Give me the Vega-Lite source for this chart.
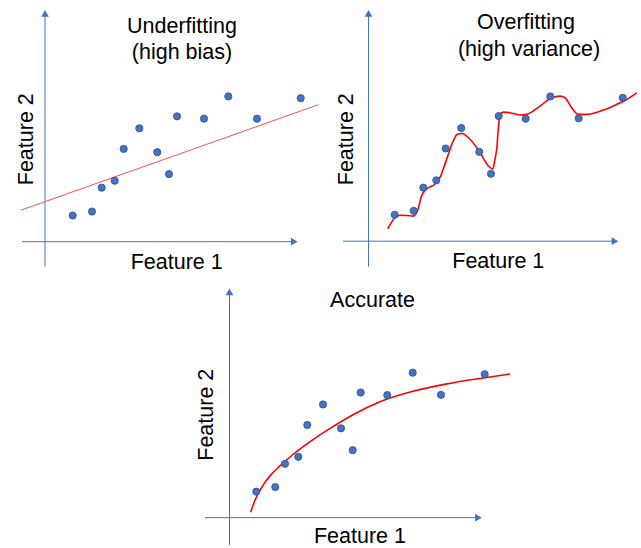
{
  "$schema": "https://vega.github.io/schema/vega-lite/v6.json",
  "width": 641,
  "height": 548,
  "padding": 0,
  "autosize": {"type": "fit", "contains": "padding"},
  "background": "white",
  "config": {"view": {"stroke": null}},
  "datasets": {
    "axes": [
      {"x": 45, "y": 16, "x2": 45, "y2": 268},
      {"x": 22, "y": 243, "x2": 292, "y2": 243},
      {"x": 368.5, "y": 16, "x2": 368.5, "y2": 268},
      {"x": 343, "y": 242.5, "x2": 613, "y2": 242.5},
      {"x": 229.5, "y": 296, "x2": 229.5, "y2": 548},
      {"x": 205, "y": 520.5, "x2": 476, "y2": 520.5}
    ],
    "arrows": [
      {"x": 45, "y": 13.4, "dir": "up"},
      {"x": 294.3, "y": 243, "dir": "right"},
      {"x": 368.5, "y": 13.4, "dir": "up"},
      {"x": 615, "y": 242.5, "dir": "right"},
      {"x": 229.5, "y": 293.4, "dir": "up"},
      {"x": 478.5, "y": 520.5, "dir": "right"}
    ],
    "fit": [
      {"x": 21, "y": 211.3, "curve": "underfit"},
      {"x": 318.3, "y": 105.3, "curve": "underfit"}
    ],
    "curves": [
      {"x": 387.7, "y": 230, "curve": "overfit"},
      {"x": 391.7, "y": 223.3, "curve": "overfit"},
      {"x": 396.7, "y": 217.3, "curve": "overfit"},
      {"x": 401.7, "y": 216.5, "curve": "overfit"},
      {"x": 406.7, "y": 216.7, "curve": "overfit"},
      {"x": 413.3, "y": 217.3, "curve": "overfit"},
      {"x": 417.3, "y": 212.7, "curve": "overfit"},
      {"x": 421.7, "y": 196.7, "curve": "overfit"},
      {"x": 426.7, "y": 190, "curve": "overfit"},
      {"x": 435, "y": 185, "curve": "overfit"},
      {"x": 440, "y": 178.3, "curve": "overfit"},
      {"x": 446.7, "y": 160, "curve": "overfit"},
      {"x": 453.3, "y": 141.7, "curve": "overfit"},
      {"x": 457.3, "y": 135, "curve": "overfit"},
      {"x": 461.7, "y": 134.3, "curve": "overfit"},
      {"x": 470, "y": 140, "curve": "overfit"},
      {"x": 480, "y": 153.3, "curve": "overfit"},
      {"x": 488.3, "y": 166.7, "curve": "overfit"},
      {"x": 492.7, "y": 170, "curve": "overfit"},
      {"x": 495, "y": 160, "curve": "overfit"},
      {"x": 496.7, "y": 150, "curve": "overfit"},
      {"x": 498.3, "y": 130, "curve": "overfit"},
      {"x": 500, "y": 115, "curve": "overfit"},
      {"x": 503.3, "y": 112.7, "curve": "overfit"},
      {"x": 510, "y": 113.3, "curve": "overfit"},
      {"x": 520, "y": 115.7, "curve": "overfit"},
      {"x": 526.7, "y": 115, "curve": "overfit"},
      {"x": 540, "y": 106.7, "curve": "overfit"},
      {"x": 551.7, "y": 98.3, "curve": "overfit"},
      {"x": 560, "y": 96.7, "curve": "overfit"},
      {"x": 565, "y": 98.3, "curve": "overfit"},
      {"x": 571.7, "y": 108.3, "curve": "overfit"},
      {"x": 578.3, "y": 115, "curve": "overfit"},
      {"x": 586.7, "y": 115, "curve": "overfit"},
      {"x": 603.3, "y": 110.7, "curve": "overfit"},
      {"x": 616.7, "y": 105, "curve": "overfit"},
      {"x": 626.7, "y": 100, "curve": "overfit"},
      {"x": 636.7, "y": 93.3, "curve": "overfit"},
      {"x": 250.7, "y": 515, "curve": "accurate"},
      {"x": 255, "y": 503, "curve": "accurate"},
      {"x": 260, "y": 493, "curve": "accurate"},
      {"x": 265, "y": 485, "curve": "accurate"},
      {"x": 270, "y": 478.5, "curve": "accurate"},
      {"x": 280, "y": 468.5, "curve": "accurate"},
      {"x": 293, "y": 457, "curve": "accurate"},
      {"x": 313, "y": 442, "curve": "accurate"},
      {"x": 333, "y": 429, "curve": "accurate"},
      {"x": 353, "y": 417, "curve": "accurate"},
      {"x": 380, "y": 404, "curve": "accurate"},
      {"x": 413, "y": 393.5, "curve": "accurate"},
      {"x": 447, "y": 386, "curve": "accurate"},
      {"x": 480, "y": 380.5, "curve": "accurate"},
      {"x": 510, "y": 376, "curve": "accurate"}
    ],
    "points": [
      {"x": 72.7, "y": 216.7, "panel": "underfit"},
      {"x": 92, "y": 212.7, "panel": "underfit"},
      {"x": 101.7, "y": 188.7, "panel": "underfit"},
      {"x": 114.7, "y": 181.7, "panel": "underfit"},
      {"x": 123.7, "y": 149.7, "panel": "underfit"},
      {"x": 139.3, "y": 129, "panel": "underfit"},
      {"x": 157.3, "y": 153, "panel": "underfit"},
      {"x": 169, "y": 175, "panel": "underfit"},
      {"x": 177, "y": 117, "panel": "underfit"},
      {"x": 204, "y": 119.3, "panel": "underfit"},
      {"x": 228.3, "y": 97, "panel": "underfit"},
      {"x": 257, "y": 119.3, "panel": "underfit"},
      {"x": 300.7, "y": 98.7, "panel": "underfit"},
      {"x": 394.7, "y": 216, "panel": "overfit"},
      {"x": 413.7, "y": 212, "panel": "overfit"},
      {"x": 423.3, "y": 188.7, "panel": "overfit"},
      {"x": 436.3, "y": 181.3, "panel": "overfit"},
      {"x": 445.7, "y": 149.3, "panel": "overfit"},
      {"x": 461.3, "y": 128.7, "panel": "overfit"},
      {"x": 479.3, "y": 152.7, "panel": "overfit"},
      {"x": 491, "y": 174.7, "panel": "overfit"},
      {"x": 498.7, "y": 116.7, "panel": "overfit"},
      {"x": 525.7, "y": 119.3, "panel": "overfit"},
      {"x": 550.3, "y": 97, "panel": "overfit"},
      {"x": 578.7, "y": 119, "panel": "overfit"},
      {"x": 622.7, "y": 98.3, "panel": "overfit"},
      {"x": 256.3, "y": 494.3, "panel": "accurate"},
      {"x": 275.3, "y": 489.7, "panel": "accurate"},
      {"x": 285, "y": 466.3, "panel": "accurate"},
      {"x": 298.3, "y": 459.3, "panel": "accurate"},
      {"x": 307.3, "y": 427.3, "panel": "accurate"},
      {"x": 323, "y": 406.7, "panel": "accurate"},
      {"x": 341, "y": 430.7, "panel": "accurate"},
      {"x": 352.7, "y": 452.7, "panel": "accurate"},
      {"x": 360.7, "y": 394.7, "panel": "accurate"},
      {"x": 387.3, "y": 397.3, "panel": "accurate"},
      {"x": 412.7, "y": 374.7, "panel": "accurate"},
      {"x": 441, "y": 397, "panel": "accurate"},
      {"x": 484.7, "y": 376.3, "panel": "accurate"}
    ],
    "htext": [
      {"x": 182, "y": 33.3, "text": "Underfitting"},
      {"x": 182, "y": 59.5, "text": "(high bias)"},
      {"x": 526, "y": 29.5, "text": "Overfitting"},
      {"x": 529, "y": 56, "text": "(high variance)"},
      {"x": 372.5, "y": 309, "text": "Accurate"},
      {"x": 176.7, "y": 270, "text": "Feature 1"},
      {"x": 498.3, "y": 269, "text": "Feature 1"},
      {"x": 360, "y": 546, "text": "Feature 1"}
    ],
    "vtext": [
      {"x": 32.5, "y": 140, "text": "Feature 2"},
      {"x": 353, "y": 140, "text": "Feature 2"},
      {"x": 213, "y": 417, "text": "Feature 2"}
    ]
  },
  "encoding": {
    "x": {"field": "x", "type": "quantitative", "axis": null, "scale": {"domain": [0, 641], "nice": false, "zero": false}},
    "y": {"field": "y", "type": "quantitative", "axis": null, "scale": {"domain": [0, 548], "nice": false, "zero": false, "reverse": true}}
  },
  "layer": [
    {
      "data": {"name": "axes"},
      "mark": {"type": "rule", "color": "#4472C4", "strokeWidth": 1},
      "encoding": {
        "x2": {"field": "x2"},
        "y2": {"field": "y2"}
      }
    },
    {
      "data": {"name": "arrows"},
      "mark": {"type": "point", "filled": true, "color": "#4472C4", "size": 60, "opacity": 1},
      "encoding": {
        "shape": {"field": "dir", "type": "nominal", "legend": null, "scale": {"domain": ["up", "right"], "range": ["triangle-up", "triangle-right"]}}
      }
    },
    {
      "data": {"name": "fit"},
      "mark": {"type": "line", "color": "#F05454", "strokeWidth": 1},
      "encoding": {"detail": {"field": "curve"}}
    },
    {
      "data": {"name": "curves"},
      "mark": {"type": "line", "color": "#FF0000", "strokeWidth": 1.6, "interpolate": "monotone"},
      "encoding": {"detail": {"field": "curve"}}
    },
    {
      "data": {"name": "points"},
      "mark": {"type": "circle", "color": "#4472C4", "stroke": "#2F528F", "strokeWidth": 0.8, "size": 52, "opacity": 1}
    },
    {
      "data": {"name": "htext"},
      "mark": {"type": "text", "font": "Liberation Sans", "fontSize": 21.5, "color": "#000000", "align": "center", "baseline": "alphabetic"},
      "encoding": {"text": {"field": "text"}}
    },
    {
      "data": {"name": "vtext"},
      "mark": {"type": "text", "font": "Liberation Sans", "fontSize": 21.5, "color": "#000000", "align": "center", "baseline": "alphabetic", "angle": 270},
      "encoding": {"text": {"field": "text"}}
    }
  ]
}
